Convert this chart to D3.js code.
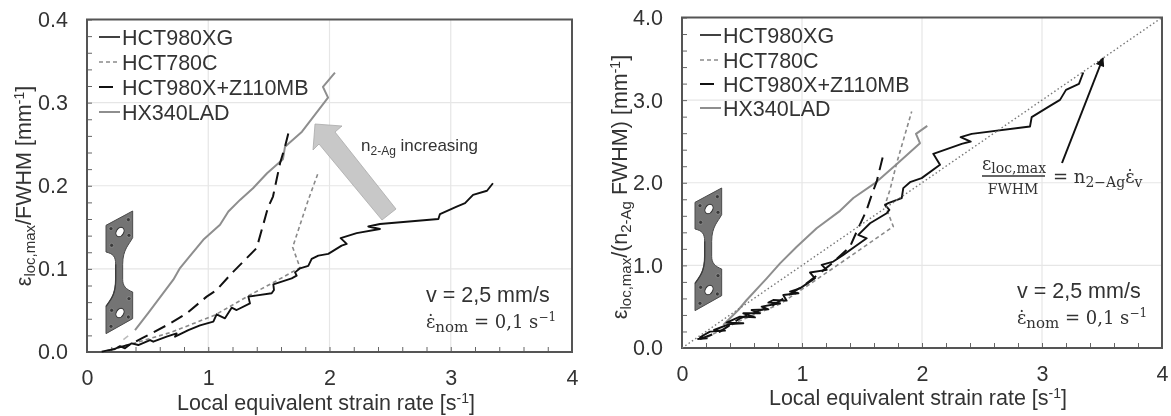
<!DOCTYPE html>
<html>
<head>
<meta charset="utf-8">
<script src="https://cdn.jsdelivr.net/npm/d3@7"></script>
<style>
  html, body { margin: 0; padding: 0; background: #fff; }
  svg { display: block; filter: blur(0.5px); }
  text { font-family: "Liberation Sans", Arial, sans-serif; fill: #333; }
</style>
</head>
<body>
<svg id="chart" width="1171" height="416"></svg>
<script>
// values, [strain rate, y]
const xgLeft = [[.121,.0004],[.231,.0036],[.272,.007],[.313,.0044],[.368,.0104],[.423,.0084],[.52,.0144],[.547,.0124],[.657,.0184],[.739,.0224],[.726,.0184],[.836,.0264],[.932,.032],[1.042,.0365],[1.069,.0453],[1.138,.0405],[1.193,.0533],[1.234,.0505],[1.344,.0585],[1.331,.0666],[1.523,.0706],[1.542,.0746],[1.537,.0814],[1.688,.0886],[1.729,.0918],[1.716,.0958],[1.757,.1007],[1.825,.1037],[1.853,.112],[1.908,.116],[1.990,.118],[2.100,.128],[2.142,.130],[2.092,.137],[2.224,.143],[2.416,.148],[2.320,.151],[2.416,.154],[2.898,.160],[2.911,.166],[3.049,.175],[3.118,.179],[3.184,.189],[3.299,.194],[3.348,.203]];
const c780Left = [[.15,.001],[.4,.011],[.7,.024],[1.056,.0445],[1.344,.0686],[1.55,.0846],[1.757,.1015],[1.696,.126],[1.825,.183],[1.905,.215]];
const z110Left = [[.25,.005],[.355,.009],[.451,.0164],[.671,.0332],[.822,.0465],[.987,.0666],[1.069,.0746],[1.193,.0946],[1.399,.125],[1.476,.165],[1.493,.174],[1.534,.187],[1.592,.227],[1.633,.247],[1.674,.271]];
const hxLeft = [[.396,.0264],[.506,.047],[.712,.087],[.767,.101],[.959,.135],[1.097,.153],[1.166,.169],[1.262,.183],[1.369,.197],[1.485,.215],[1.616,.232],[1.633,.247],[1.773,.265],[1.988,.306],[1.946,.319],[2.045,.336]];
const hxLeftFaint = [[.3,.015],[.355,.021]];

const xgRight = [[.128,.109],[.206,.117],[.15,.13],[.233,.198],[.358,.21],[.267,.218],[.4,.291],[.511,.299],[.372,.307],[.483,.38],[.608,.371],[.511,.42],[.65,.42],[.58,.46],[.72,.468],[.664,.5],[.817,.541],[.72,.549],[.761,.581],[.872,.573],[.844,.642],[.97,.662],[.9,.682],[.983,.722],[1.108,.844],[1.067,.913],[1.206,.945],[1.164,1.006],[1.261,1.046],[1.344,1.127],[1.442,1.228],[1.539,1.328],[1.469,1.369],[1.567,1.51],[1.706,1.631],[1.728,1.671],[1.692,1.732],[1.719,1.753],[1.831,1.814],[1.844,1.935],[1.9,2.007],[1.997,2.056],[2.15,2.217],[2.094,2.35],[2.331,2.471],[2.406,2.499],[2.322,2.552],[2.414,2.592],[2.9,2.681],[2.914,2.794],[3.067,2.931],[3.15,3.003],[3.2,3.124],[3.308,3.197],[3.344,3.334]];
const c780Right = [[.15,.11],[.206,.129],[.483,.331],[.817,.532],[1.15,.857],[1.289,.996],[1.456,1.164],[1.761,1.47],[1.692,1.732],[1.733,1.913],[1.789,2.237],[1.914,2.862]];
const z110Right = [[.15,.11],[.317,.198],[.483,.359],[.761,.52],[1.039,.782],[1.233,1.004],[1.4,1.226],[1.456,1.409],[1.539,1.671],[1.58,1.85],[1.622,2.013],[1.686,2.388]];
const hxRight = [[.344,.278],[.469,.46],[.539,.581],[.706,.843],[.817,1.024],[.956,1.226],[1.122,1.449],[1.317,1.66],[1.428,1.815],[1.608,1.995],[1.8,2.24],[1.983,2.479],[1.95,2.592],[2.044,2.689]];
const unityLine = [[0,0],[4,4]];

const legendNames = ['HCT980XG', 'HCT780C', 'HCT980X+Z110MB', 'HX340LAD'];
const xTicks = [0, 1, 2, 3, 4];
const xMinor = d3.range(0, 4.01, 0.2);
const yTicksLeft = [0, 0.1, 0.2, 0.3, 0.4];
const yTicksRight = [0, 1, 2, 3, 4];

const styles = [
  { stroke: '#111', width: 1.9, dash: null },
  { stroke: '#8a8a8a', width: 1.6, dash: '4 3' },
  { stroke: '#111', width: 2, dash: '13 7' },
  { stroke: '#8e8e8e', width: 2, dash: null }
];

const svg = d3.select('#chart');
const labelSize = 21.5;

function drawPanel(box, yMax, yTicks, minorStep, series) {
  const x = d3.scaleLinear().domain([0, 4]).range([box.left, box.right]);
  const y = d3.scaleLinear().domain([0, yMax]).range([box.bottom, box.top]);
  const g = svg.append('g');

  // light gridlines at the major ticks
  g.selectAll('.gx').data(xTicks.slice(1, -1)).enter().append('line')
    .attr('x1', d => x(d)).attr('x2', d => x(d))
    .attr('y1', box.top).attr('y2', box.bottom)
    .attr('stroke', '#e6e6e6').attr('stroke-width', 1.2);
  g.selectAll('.gy').data(yTicks.slice(1, -1)).enter().append('line')
    .attr('x1', box.left).attr('x2', box.right)
    .attr('y1', d => y(d)).attr('y2', d => y(d))
    .attr('stroke', '#e6e6e6').attr('stroke-width', 1.2);

  // minor ticks point inwards, labels come from a second axis
  const bottomMinor = g.append('g').attr('transform', `translate(0,${box.bottom})`)
    .call(d3.axisBottom(x).tickValues(xMinor).tickSize(-5).tickFormat(''));
  const leftMinor = g.append('g').attr('transform', `translate(${box.left},0)`)
    .call(d3.axisLeft(y).tickValues(d3.range(0, yMax + minorStep / 2, minorStep)).tickSize(-5).tickFormat(''));
  [bottomMinor, leftMinor].forEach(a => {
    a.select('.domain').remove();
    a.selectAll('line').attr('stroke', '#666').attr('stroke-width', 1);
  });

  const bottomLabels = g.append('g').attr('transform', `translate(0,${box.bottom})`)
    .call(d3.axisBottom(x).tickValues(xTicks).tickSize(0).tickPadding(18).tickFormat(d3.format('d')));
  const leftLabels = g.append('g').attr('transform', `translate(${box.left},0)`)
    .call(d3.axisLeft(y).tickValues(yTicks).tickSize(0).tickPadding(19).tickFormat(d3.format('.1f')));
  [bottomLabels, leftLabels].forEach(a => {
    a.select('.domain').remove();
    a.selectAll('text').attr('font-size', labelSize).attr('font-family', '"Liberation Sans", Arial, sans-serif').attr('fill', '#333');
  });

  g.append('rect')
    .attr('x', box.left).attr('y', box.top)
    .attr('width', box.right - box.left).attr('height', box.bottom - box.top)
    .attr('fill', 'none').attr('stroke', '#555').attr('stroke-width', 2);

  const line = d3.line().x(d => x(d[0])).y(d => y(d[1]));
  // draw light series first so black stays on top
  [3, 1, 0, 2].forEach(i => {
    g.append('path')
      .attr('d', line(series[i]))
      .attr('fill', 'none')
      .attr('stroke', styles[i].stroke)
      .attr('stroke-width', styles[i].width)
      .attr('stroke-dasharray', styles[i].dash)
      .attr('stroke-linejoin', 'round');
  });
  return { x, y, g, line };
}

function drawLegend(lineX, textX, rows) {
  legendNames.forEach((name, i) => {
    svg.append('line')
      .attr('x1', lineX).attr('x2', lineX + (i === 2 ? 14 : 21))
      .attr('y1', rows[i]).attr('y2', rows[i])
      .attr('stroke', styles[i].stroke)
      .attr('stroke-width', i === 0 ? 1.6 : styles[i].width)
      .attr('stroke-dasharray', i === 2 ? null : styles[i].dash);
    svg.append('text')
      .attr('x', textX).attr('y', rows[i] + 7.5)
      .attr('font-size', labelSize)
      .text(name);
  });
}

// specimen sketch, outline
function drawSpecimen(px, py) {
  const g = svg.append('g').attr('transform', `translate(${px},${py}) scale(0.3333)`);
  const outline = 'M0,43 L80,0 L80,80 C70,100 50,115 50,160 L50,205 C50,225 60,235 80,243 L80,323 L0,368 L0,286 C15,265 29,250 29,205 L29,160 C29,135 20,128 0,123 Z';
  g.append('path').attr('d', outline).attr('fill', '#747474').attr('stroke', '#4a4a4a').attr('stroke-width', 3);
  g.append('path').attr('d', 'M0,286 C15,265 29,250 29,205 L29,160').attr('fill', 'none').attr('stroke', '#3c3c3c').attr('stroke-width', 4);
  [[42, 63], [42, 306]].forEach(p => {
    g.append('ellipse').attr('cx', p[0]).attr('cy', p[1]).attr('rx', 11).attr('ry', 15)
      .attr('transform', `rotate(30 ${p[0]} ${p[1]})`)
      .attr('fill', '#fff').attr('stroke', '#333').attr('stroke-width', 3);
  });
  [[15, 53], [67, 26], [69, 73], [17, 103], [15, 346], [69, 263], [67, 318], [17, 298]].forEach(p => {
    g.append('circle').attr('cx', p[0]).attr('cy', p[1]).attr('r', 6).attr('fill', '#3a3a3a').attr('stroke', '#aaa').attr('stroke-width', 1.5);
  });
}

function addRuns(el, runs) {
  runs.forEach(r => {
    const t = el.append('tspan').text(r.t);
    if (r.size) t.attr('font-size', r.size);
    if (r.dy) t.attr('dy', r.dy);
    if (r.font) t.style('font-family', r.font);
  });
}

const serifFont = '"DejaVu Serif", serif';

function rateNote(px, py) {
  svg.append('text').attr('x', px).attr('y', py).attr('font-size', labelSize).text('v = 2,5 mm/s');
  const t = svg.append('text').attr('x', px).attr('y', py + 26).attr('font-size', 18);
  addRuns(t, [
    { t: 'ε\u0307', font: serifFont },
    { t: 'nom', size: 15, dy: 4, font: serifFont },
    { t: ' = 0,1 s', dy: -4, font: serifFont },
    { t: '−1', size: 12, dy: -7, font: serifFont }
  ]);
}

const left = drawPanel({ left: 87, right: 572, top: 19.5, bottom: 352 }, 0.4, yTicksLeft, 0.02, [xgLeft, c780Left, z110Left, hxLeft]);
const right = drawPanel({ left: 682, right: 1162, top: 17.5, bottom: 348 }, 4, yTicksRight, 0.2, [xgRight, c780Right, z110Right, hxRight]);

left.g.append('path').attr('d', left.line(hxLeftFaint))
  .attr('fill', 'none').attr('stroke', '#bbb').attr('stroke-width', 1.6).attr('stroke-dasharray', '6 6');

// y = x guide on the right panel
right.g.append('path')
  .attr('d', right.line(unityLine))
  .attr('fill', 'none').attr('stroke', '#777').attr('stroke-width', 1.4).attr('stroke-dasharray', '1.5 2.5');

drawLegend(99, 122, [37, 62, 87, 112]);
drawLegend(700, 723, [35, 60, 84, 108]);
drawSpecimen(106, 211);
drawSpecimen(695, 188);
rateNote(426, 302);
rateNote(1017, 298);

// axis titles
const xTitleRuns = [{ t: 'Local equivalent strain rate [s' }, { t: '-1', size: 14, dy: -7 }, { t: ']', dy: 7 }];
svg.append('text').attr('x', 326).attr('y', 410).attr('text-anchor', 'middle').attr('font-size', labelSize).call(addRuns, xTitleRuns);
svg.append('text').attr('x', 918).attr('y', 405).attr('text-anchor', 'middle').attr('font-size', labelSize).call(addRuns, xTitleRuns);

svg.append('text').attr('transform', 'translate(31,186) rotate(-90)').attr('text-anchor', 'middle').attr('font-size', labelSize)
  .call(addRuns, [{ t: 'ε' }, { t: 'loc,max', size: 15, dy: 4 }, { t: '/FWHM [mm', dy: -4 }, { t: '-1', size: 14, dy: -7 }, { t: ']', dy: 7 }]);
svg.append('text').attr('transform', 'translate(627,187) rotate(-90)').attr('text-anchor', 'middle').attr('font-size', labelSize)
  .call(addRuns, [{ t: 'ε' }, { t: 'loc,max', size: 15, dy: 4 }, { t: '/(n', dy: -4 }, { t: '2-Ag', size: 15, dy: 4 }, { t: ' FWHM) [mm', dy: -4 }, { t: '-1', size: 14, dy: -7 }, { t: ']', dy: 7 }]);

// big "increasing" arrow
svg.append('polygon')
  .attr('points', '315,124 342,126 335,132 396,209 382,220 319,144 313,150')
  .attr('fill', '#c8c8c8').attr('stroke', '#aaa').attr('stroke-width', 0.8);
svg.append('text').attr('x', 361).attr('y', 151).attr('font-size', 17)
  .call(addRuns, [{ t: 'n' }, { t: '2-Ag', size: 12, dy: 4 }, { t: ' increasing', dy: -4 }]);

// arrow to the guide line and its formula
svg.append('defs').append('marker').attr('id', 'head')
  .attr('viewBox', '0 0 10 10').attr('refX', 9).attr('refY', 5)
  .attr('markerWidth', 12).attr('markerHeight', 9).attr('markerUnits', 'userSpaceOnUse').attr('orient', 'auto')
  .append('path').attr('d', 'M0,0 L10,5 L0,10 Z').attr('fill', '#111');
svg.append('line').attr('x1', 1062).attr('y1', 163).attr('x2', 1103).attr('y2', 58)
  .attr('stroke', '#111').attr('stroke-width', 2).attr('marker-end', 'url(#head)');

const num = svg.append('text').attr('x', 982).attr('y', 170).attr('font-size', 18);
addRuns(num, [{ t: 'ε', font: serifFont }, { t: 'loc,max', size: 14, dy: 3, font: serifFont }]);
svg.append('line').attr('x1', 982).attr('x2', 1045).attr('y1', 176).attr('y2', 176).attr('stroke', '#333').attr('stroke-width', 1.3);
svg.append('text').attr('x', 1013).attr('y', 194).attr('text-anchor', 'middle').attr('font-size', 14)
  .style('font-family', serifFont).text('FWHM');
const rhs = svg.append('text').attr('x', 1053).attr('y', 183).attr('font-size', 18);
addRuns(rhs, [{ t: '= n', font: serifFont }, { t: '2−Ag', size: 14, dy: 4, font: serifFont }, { t: 'ε\u0307', dy: -4, font: serifFont }, { t: 'v', size: 14, dy: 4, font: serifFont }]);
</script>
</body>
</html>
